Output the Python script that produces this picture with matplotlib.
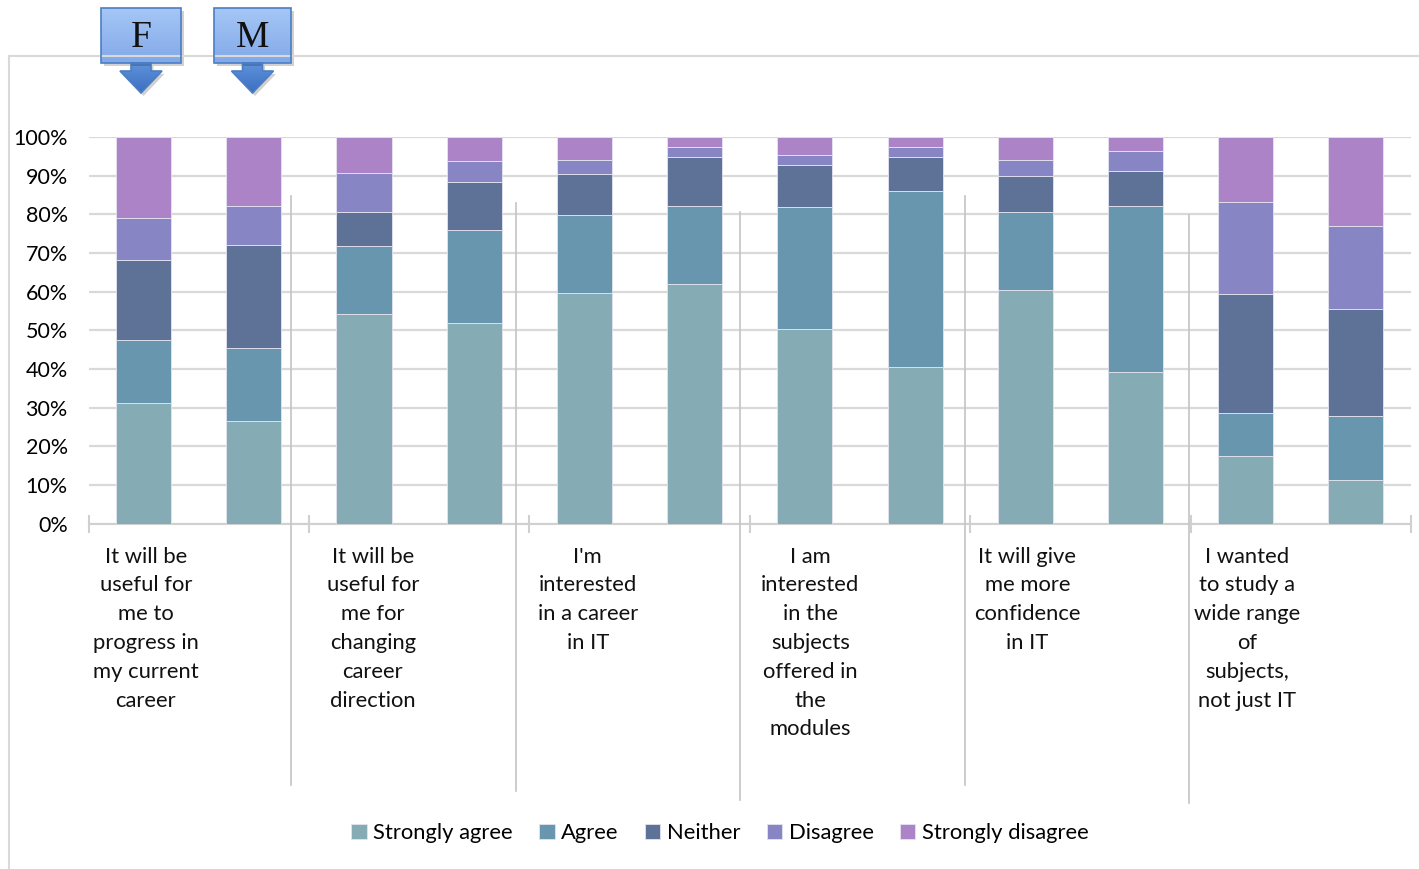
import numpy as np
import matplotlib
matplotlib.use("Agg")
import matplotlib.pyplot as plt
from matplotlib.patches import Polygon
from matplotlib.colors import LinearSegmentedColormap

# ============================================================
# Data
# ============================================================

statements = [
    "It will be\nuseful for\nme to\nprogress in\nmy current\ncareer",
    "It will be\nuseful for\nme for\nchanging\ncareer\ndirection",
    "I'm\ninterested\nin a career\nin IT",
    "I am\ninterested\nin the\nsubjects\noffered in\nthe\nmodules",
    "It will give\nme more\nconfidence\nin IT",
    "I wanted\nto study a\nwide range\nof\nsubjects,\nnot just IT",
]
genders = ["F", "M"]

# one value per bar: F, M for each statement (percent)
strongly_agree = [31.3, 26.4, 54.2, 51.9, 59.6, 61.9, 50.3, 40.5, 60.4, 39.2, 17.4, 11.2]
agree = [16.2, 19.0, 17.5, 24.0, 20.2, 20.3, 31.5, 45.5, 20.2, 43.0, 11.3, 16.6]
neither = [20.7, 26.6, 8.8, 12.5, 10.7, 12.7, 10.9, 8.9, 9.2, 8.9, 30.7, 27.7]
disagree = [10.9, 10.2, 10.1, 5.3, 3.5, 2.6, 2.6, 2.6, 4.2, 5.2, 23.7, 21.6]
strongly_disagree = [20.9, 17.8, 9.4, 6.3, 6.0, 2.5, 4.7, 2.5, 6.0, 3.7, 16.9, 22.9]

series_names = ["Strongly agree", "Agree", "Neither", "Disagree", "Strongly disagree"]
series_values = [strongly_agree, agree, neither, disagree, strongly_disagree]
series_colors = ["#85ABB5", "#6896AF", "#5E7197", "#8885C5", "#AC83C6"]

FONT = ["Lato", "DejaVu Sans"]
W, H = 1419, 869

# ============================================================
# Figure
# ============================================================

fig = plt.figure(figsize=(W / 100, H / 100), dpi=100)
ax = fig.add_axes([88.5 / W, 1 - 523.5 / H, (1411 - 88.5) / W, (523.5 - 137) / H])

x = np.arange(len(strongly_agree))
bottom = np.zeros(len(x))
for name, vals, col in zip(series_names, series_values, series_colors):
    ax.bar(x, vals, width=0.5, bottom=bottom, color=col, label=name,
           edgecolor="#E4E4F0", linewidth=0.6, zorder=3)
    bottom += np.array(vals)

ax.set_xlim(-0.5, len(x) - 0.5)
ax.set_ylim(0, 100)
ax.set_yticks(np.arange(0, 101, 10))
ax.set_yticklabels([f"{v}%" for v in range(0, 101, 10)], fontfamily=FONT, fontsize=15.5)
ax.yaxis.grid(True, color="#D9D9D9", linewidth=1.6, zorder=0)
ax.tick_params(axis="y", length=0, pad=15)

ax.set_xticks([])
ax.set_xticks(np.arange(-0.5, len(x), 2), minor=True)
ax.tick_params(axis="x", which="minor", direction="inout", length=13,
               color="#D0D0D0", width=1.5)
ax.tick_params(axis="x", which="major", length=0)

for side in ["top", "right", "left"]:
    ax.spines[side].set_visible(False)
ax.spines["bottom"].set_color("#D0D0D0")
ax.spines["bottom"].set_linewidth(1.5)

# statement labels under the F bar of each pair
label_shift = [0.02, 0.08, 0.03, 0.05, 0.02, 0.01]
for i, text in enumerate(statements):
    ax.text(2 * i + label_shift[i], -0.06, text, transform=ax.get_xaxis_transform(),
            ha="center", va="top", fontfamily=FONT, fontsize=15.8, linespacing=1.55,
            color="#111111")

fig.legend(loc="center", bbox_to_anchor=(720 / W, 1 - 833 / H), ncol=5, frameon=False,
           prop={"family": FONT, "size": 15.8}, handlelength=0.7, handleheight=0.7,
           handletextpad=0.3, columnspacing=1.2)

# ============================================================
# Overlay: frame, separators, F/M callouts (pixel coords)
# ============================================================

ov = fig.add_axes([0, 0, 1, 1], zorder=5)
ov.set_xlim(0, W)
ov.set_ylim(H, 0)
ov.axis("off")
ov.set_autoscale_on(False)

ov.plot([9, W], [56, 56], color="#D9D9D9", lw=1.5)
ov.plot([9, 9], [56, H], color="#D9D9D9", lw=1.5)

for sx, y0, y1 in [(291, 196, 785), (516, 203, 791), (740, 212, 800),
                   (965, 196, 785), (1189, 215, 803)]:
    ov.plot([sx, sx], [y0, y1], color="#C4C4C8", lw=1.2)

box_cmap = LinearSegmentedColormap.from_list("box", ["#A6C7F6", "#82A9E8"])
arrow_cmap = LinearSegmentedColormap.from_list("arr", ["#5F92DB", "#3B6FC0"])
grad = np.linspace(0, 1, 64).reshape(-1, 1)


def gradient_patch(verts, cmap):
    verts = np.array(verts, dtype=float)
    shadow = Polygon(verts + [2.5, 3], closed=True, facecolor="#000000", alpha=0.18,
                     edgecolor="none")
    ov.add_patch(shadow)
    patch = Polygon(verts, closed=True, facecolor="none", edgecolor="#4C7EC4", lw=1.2)
    ov.add_patch(patch)
    x0, x1 = verts[:, 0].min(), verts[:, 0].max()
    y0, y1 = verts[:, 1].min(), verts[:, 1].max()
    im = ov.imshow(grad, extent=(x0, x1, y1, y0), cmap=cmap, aspect="auto",
                   origin="upper", zorder=1)
    im.set_clip_path(patch)
    patch.set_zorder(2)


for label, bx0, bx1 in [("F", 101, 181), ("M", 214, 291)]:
    cx = (bx0 + bx1) / 2
    gradient_patch([(cx - 10, 63), (cx + 10, 63), (cx + 10, 71), (cx + 21, 71),
                    (cx, 93), (cx - 21, 71), (cx - 10, 71)], arrow_cmap)
    gradient_patch([(bx0, 7.5), (bx1, 7.5), (bx1, 63), (bx0, 63)], box_cmap)
    ov.text(cx, 38, label, ha="center", va="center", fontfamily="Liberation Serif",
            fontsize=27, color="#111111", zorder=4)

ov.set_xlim(0, W)
ov.set_ylim(H, 0)

fig.savefig("out.png", dpi=100)
